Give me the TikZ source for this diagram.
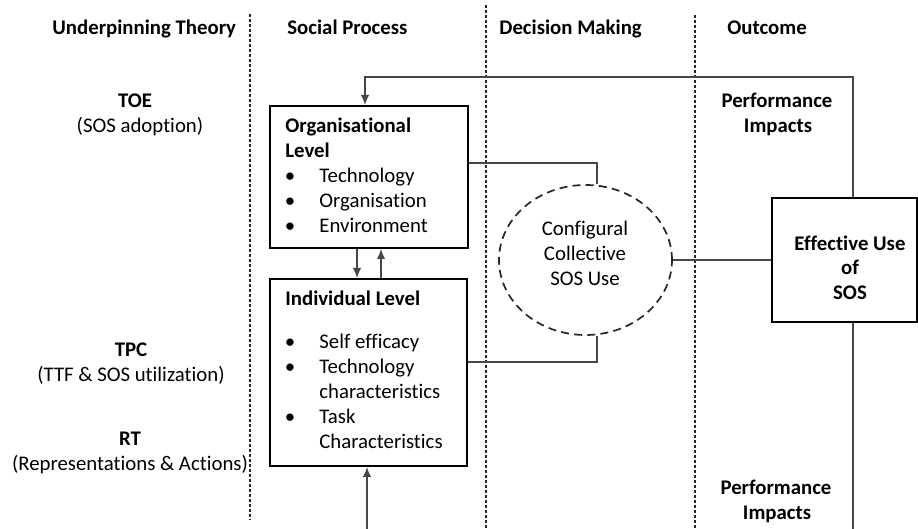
\documentclass[tikz,border=0pt]{standalone}
\usepackage{fontspec}
\setmainfont{Carlito}[Ligatures={NoCommon}]
\usetikzlibrary{arrows.meta,shapes.geometric}
\newcommand\dgfont{\fontsize{10.4pt}{12.5pt}\selectfont}
\begin{document}
\begin{tikzpicture}[x=0.5pt,y=-0.5pt,
  every node/.style={font=\dgfont, inner sep=0pt, text=black},
  hdr/.style={anchor=base west, font=\dgfont\bfseries},
  ctr/.style={anchor=base},
  ctrb/.style={anchor=base, font=\dgfont\bfseries},
  lft/.style={anchor=base west},
  lftb/.style={anchor=base west, font=\dgfont\bfseries},
  bul/.style={anchor=base},
  boxnode/.style={draw=black, line width=1pt, rectangle},
  conn/.style={draw=black!72, line width=0.65pt},
  arr/.style={conn, -{Latex[length=5pt,width=4.2pt]}},
  colsep/.style={draw=black!85, line width=0.8pt, dash pattern=on 1.6pt off 0.9pt},
]
\useasboundingbox (0,0) rectangle (918,529);

% column separators
\coordinate (s1t) at (250,14);  \coordinate (s1b) at (250,520);
\coordinate (s2t) at (486,5);   \coordinate (s2b) at (486,529);
\coordinate (s3t) at (695,15);  \coordinate (s3b) at (695,529);
\draw[colsep] (s1t) -- (s1b);
\draw[colsep] (s2t) -- (s2b);
\draw[colsep] (s3t) -- (s3b);

% boxes
\node[boxnode, minimum width=99pt, minimum height=71pt] (org) at (369,177) {};
\node[boxnode, minimum width=98.5pt, minimum height=93.5pt] (ind) at (368.5,372.5) {};
\node[boxnode, minimum width=72.5pt, minimum height=62pt] (eff) at (844.5,260) {};
\node[draw=black!85, line width=0.85pt, dash pattern=on 4pt off 2.6pt, ellipse,
      minimum width=86.5pt, minimum height=75pt] (conf) at (585.5,260) {};

\begin{scope}[yshift=-1pt]
% headers
\node[hdr] (h1) at (52,33) {Underpinning Theory};
\node[hdr] (h2) at (287,33) {Social Process};
\node[hdr] (h3) at (499,33) {Decision Making};
\node[hdr] (h4) at (727,33) {Outcome};

% underpinning theory
\node[ctrb] (toe) at (135,106) {TOE};
\node[ctr] (toe2) at (140,131) {(SOS adoption)};
\node[ctrb] (tpc) at (131,355) {TPC};
\node[ctr] (tpc2) at (131,380) {(TTF \& SOS utilization)};
\node[ctrb] (rt) at (130,444) {RT};
\node[ctr] (rt2) at (130,469) {(Representations \& Actions)};

% organisational level text
\node[lftb] (o1) at (285,131) {Organisational};
\node[lftb] (o2) at (285,156) {Level};
\node[bul] (ob1) at (290,181) {\textbullet};
\node[lft] (ot1) at (319,181) {Technology};
\node[bul] (ob2) at (290,206) {\textbullet};
\node[lft] (ot2) at (319,206) {Organisation};
\node[bul] (ob3) at (290,231) {\textbullet};
\node[lft] (ot3) at (319,231) {Environment};

% individual level text
\node[lftb] (i1) at (285,304) {Individual Level};
\node[bul] (ib1) at (290,347) {\textbullet};
\node[lft] (it1) at (319,347) {Self efficacy};
\node[bul] (ib2) at (290,372) {\textbullet};
\node[lft] (it2) at (319,372) {Technology};
\node[lft] (it3) at (319,397) {characteristics};
\node[bul] (ib3) at (290,422) {\textbullet};
\node[lft] (it4) at (319,422) {Task};
\node[lft] (it5) at (319,447) {Characteristics};

% configural text
\node[ctr] (c1) at (585,234) {Configural};
\node[ctr] (c2) at (585,259) {Collective};
\node[ctr] (c3) at (585,284) {SOS Use};

% effective use text
\node[ctrb] (e1) at (850,249) {Effective Use};
\node[ctrb] (e2) at (850,273) {of};
\node[ctrb] (e3) at (850,298) {SOS};

% performance impacts
\node[ctrb] (p1) at (777,106) {Performance};
\node[ctrb] (p2) at (778,131) {Impacts};
\node[ctrb] (p3) at (776,493) {Performance};
\node[ctrb] (p4) at (777,518) {Impacts};
\end{scope}

% connectors
\coordinate (cx) at (597,0);
\draw[conn] ([yshift=7pt]org.east) -| (conf.north -| cx);
\draw[conn] ([yshift=5.25pt]ind.east) -| (conf.south -| cx);
\draw[conn] (conf.east) -- (conf.east -| eff.west);

\coordinate (dA) at (357,0);
\coordinate (uA) at (381,0);
\draw[arr] (org.south -| dA) -- (ind.north -| dA);
\draw[arr] (ind.north -| uA) -- (org.south -| uA);

\coordinate (fbR) at (853,77);
\coordinate (fbL) at (365,77);
\draw[arr] (eff.north -| fbR) -- (fbR) -- (fbL) -- (org.north -| fbL);

\coordinate (botR) at (853,529);
\draw[conn] (eff.south -| botR) -- (botR);

\coordinate (botL) at (367,529);
\draw[arr] (botL) -- (ind.south -| botL);
\end{tikzpicture}
\end{document}
